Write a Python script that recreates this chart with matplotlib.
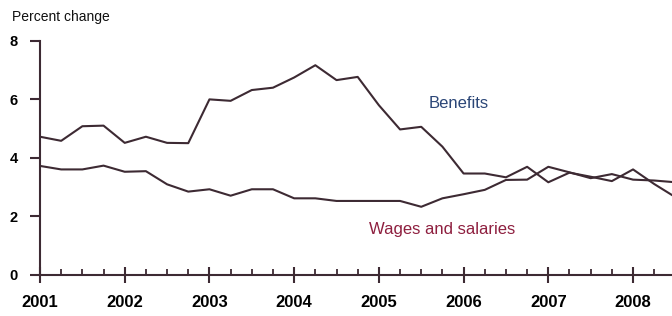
import numpy as np
import matplotlib
matplotlib.use("Agg")
import matplotlib.pyplot as plt
from matplotlib.ticker import MultipleLocator

# quarterly data, 12-month percent change
quarters = [2001.0, 2001.25, 2001.5, 2001.75, 2002.0, 2002.25, 2002.5, 2002.75,
            2003.0, 2003.25, 2003.5, 2003.75, 2004.0, 2004.25, 2004.5, 2004.75,
            2005.0, 2005.25, 2005.5, 2005.75, 2006.0, 2006.25, 2006.5, 2006.75,
            2007.0, 2007.25, 2007.5, 2007.75, 2008.0, 2008.25, 2008.5]
benefits = [4.72, 4.58, 5.08, 5.1, 4.51, 4.72, 4.51, 4.5,
            6.0, 5.95, 6.32, 6.4, 6.75, 7.17, 6.66, 6.77,
            5.8, 4.97, 5.06, 4.38, 3.46, 3.46, 3.33, 3.69,
            3.16, 3.49, 3.35, 3.2, 3.6, 3.1, 2.65]
wages = [3.72, 3.6, 3.6, 3.73, 3.52, 3.54, 3.09, 2.84,
         2.92, 2.7, 2.92, 2.92, 2.61, 2.61, 2.52, 2.52,
         2.52, 2.52, 2.32, 2.61, 2.75, 2.9, 3.24, 3.25,
         3.69, 3.5, 3.3, 3.44, 3.25, 3.22, 3.16]
years = [2001, 2002, 2003, 2004, 2005, 2006, 2007, 2008]

line_col = "#3d2a33"
sans = ["Liberation Sans", "DejaVu Sans"]

fig = plt.figure(figsize=(6.72, 3.16), dpi=100)
ax = fig.add_axes([40 / 672, (316 - 274.5) / 316, 632 / 672, 233.5 / 316])

ax.plot(quarters, benefits, color=line_col, lw=1.5, solid_joinstyle="round")
ax.plot(quarters, wages, color=line_col, lw=1.5, solid_joinstyle="round")

ax.set_xlim(2001, 2008.46)
ax.set_ylim(0, 8)

for s in ["top", "right"]:
    ax.spines[s].set_visible(False)
for s in ["left", "bottom"]:
    ax.spines[s].set_color(line_col)
    ax.spines[s].set_linewidth(1.5)

ax.set_xticks(years)
ax.set_xticklabels([str(y) for y in years], fontsize=12, fontweight="bold",
                   family=sans)
ax.xaxis.set_minor_locator(MultipleLocator(0.25))
ax.tick_params(axis="x", which="major", direction="inout", length=11, width=1.5,
               color=line_col, pad=9)
ax.tick_params(axis="x", which="minor", direction="in", length=4, width=1.3,
               color=line_col)
ax.set_yticks([0, 2, 4, 6, 8])
ax.set_yticklabels(["0", "2", "4", "6", "8"], fontsize=10.5, fontweight="bold",
                   family=sans)
ax.tick_params(axis="y", direction="out", length=7, width=1.5, color=line_col, pad=9)

fig.text(12 / 672, 1 - 17 / 316, "Percent change", fontsize=10, family=sans,
         va="center", ha="left", color="#111111")
ax.text(2005.59, 5.86, "Benefits", fontsize=12, family=sans, color="#2b4677",
        ha="left", va="center")
ax.text(2004.88, 1.54, "Wages and salaries", fontsize=12, family=sans,
        color="#8e1f3f", ha="left", va="center")

fig.savefig("out.png", dpi=100)
